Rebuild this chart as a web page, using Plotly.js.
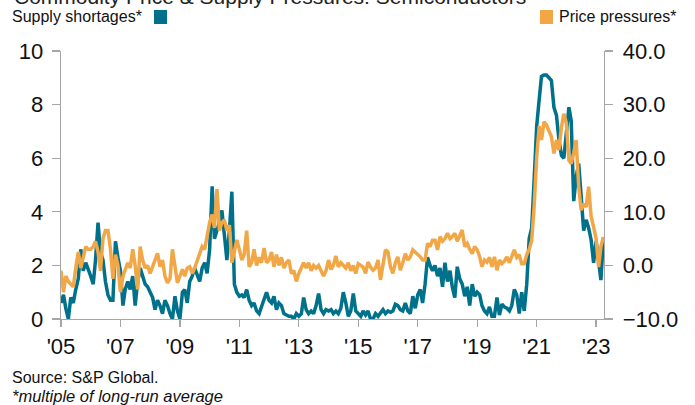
<!DOCTYPE html>
<html>
<head>
<meta charset="utf-8">
<script src="https://cdn.plot.ly/plotly-3.0.1.min.js"></script>
<style>html,body{margin:0;padding:0;background:#fff;}#chart{width:695px;height:405px;}</style>
</head>
<body>
<div id="chart"></div>
<script>
// Monthly series, Jan 2005 .. Apr 2023
var startYear = 2005;
var supplyShortages = [
  0.6, 0.9, 0.4, 0.0, 0.8, 0.6, 1.1, 1.5, 2.6, 1.8, 2.1, 1.8,   // 2005
  1.6, 1.3, 2.2, 3.6, 2.5, 2.2, 1.4, 0.9, 0.7, 0.7, 2.9, 2.3,   // 2006
  1.8, 0.5, 1.1, 1.4, 1.1, 1.6, 0.5, 1.4, 1.9, 1.6, 1.3, 1.2,   // 2007
  1.0, 0.8, 0.35, 0.7, 0.5, 0.2, 0.7, 0.5, 0.2, 0.0, 0.85, 0.3, // 2008
  0.0, 1.0, 1.1, 0.6, 1.4, 1.6, 1.9, 1.6, 1.4, 1.9, 2.1, 1.7,   // 2009
  2.6, 4.95, 3.0, 3.3, 3.6, 4.05, 3.0, 2.2, 3.3, 4.75, 1.3, 1.0, // 2010
  0.85, 0.9, 0.8, 1.1, 0.7, 0.5, 0.6, 0.3, 0.2, 0.5, 0.7, 1.0,  // 2011
  0.7, 0.6, 0.85, 0.35, 0.6, 0.5, 0.2, 0.15, 0.1, 0.1, 0.0, 0.2, // 2012
  0.1, 0.2, 0.8, 0.35, 0.2, 0.3, 0.2, 0.5, 0.95, 0.35, 0.2, 0.35, // 2013
  0.3, 0.35, 0.2, 0.3, 0.2, 0.4, 1.0, 0.6, 0.1, 0.3, 0.95, 0.3, // 2014
  0.2, 0.1, 0.3, 0.15, 0.3, 0.0, 0.0, 0.2, 0.1, 0.2, 0.35, 0.2, // 2015
  0.3, 0.25, 0.3, 0.55, 0.5, 0.35, 0.3, 0.6, 0.3, 0.2, 0.85, 0.4, // 2016
  0.9, 1.1, 0.6, 1.3, 2.3, 2.0, 1.8, 2.0, 1.6, 1.9, 1.2, 2.1,   // 2017
  1.4, 1.8, 1.2, 0.8, 1.95, 1.5, 1.3, 0.85, 1.2, 0.5, 1.3, 0.85, // 2018
  1.0, 0.9, 0.5, 0.3, 0.2, 0.45, 0.1, 0.1, 0.8, 0.15, 0.55, 0.45, // 2019
  0.4, 0.3, 0.5, 1.1, 0.9, 0.2, 1.0, 0.3, 1.3, 3.0, 3.4, 5.2,   // 2020
  7.2, 8.2, 9.05, 9.1, 9.1, 9.0, 8.9, 7.9, 7.6, 6.7, 6.1, 6.0,  // 2021
  6.9, 7.9, 7.4, 4.4, 5.3, 5.8, 4.6, 3.3, 3.7, 3.4, 2.95, 2.1,  // 2022
  2.9, 2.0, 1.45, 3.05                                          // 2023
];
var pricePressures = [
  -1.0, -5.0, -2.0, -3.0, -3.5, -4.0, -0.5, 2.5, -0.5, 1.5, 3.5, 3.0,   // 2005
  3.0, 3.5, 4.5, 2.5, -1.0, 5.0, 6.5, 6.5, 3.0, -2.5, 2.0, 0.0,        // 2006
  -5.0, -2.0, -1.0, 0.5, -0.5, 3.0, 0.0, -4.5, 3.5, 1.0, -0.5, 0.0,    // 2007
  -1.5, 0.0, 1.0, 2.25, -0.25, 1.0, -2.0, -3.25, -2.5, 3.0, 0.0, -3.25, // 2008
  -2.0, -0.75, -2.0, -0.5, -0.25, -1.5, -0.5, 1.0, 2.0, 3.5, 3.0, 5.5, // 2009
  8.0, 9.5, 7.0, 14.25, 6.5, 8.0, 8.5, 6.5, 7.5, 0.5, 3.0, 4.75,       // 2010
  3.0, 1.0, 2.0, 6.5, -0.25, 0.5, 3.0, 0.0, 1.5, 0.5, 3.25, 0.5,       // 2011
  1.0, 2.5, -0.25, 2.0, 0.0, 1.5, -0.5, 0.5, 1.0, -1.5, -1.0, -3.0,    // 2012
  -1.5, -0.5, 0.5, -0.5, 0.5, -1.0, 0.0, -0.5, 0.0, -1.0, -2.0, -1.0,  // 2013
  1.0, -0.75, 0.0, 1.75, -0.25, 0.5, 0.0, -0.5, 0.5, -1.0, 0.0, -1.5,  // 2014
  0.3, 0.0, -0.3, -1.5, 0.6, -0.3, -0.9, -0.5, 1.0, -2.7, 0.3, 2.9,    // 2015
  2.5, -0.3, -1.5, 0.5, 1.6, -0.9, 0.5, 2.2, 1.0, 1.6, 2.9, 2.5,       // 2016
  2.2, 1.6, 1.0, 1.0, 4.1, 3.5, 4.7, 4.7, 2.9, 5.35, 4.5, 5.0,         // 2017
  6.0, 5.0, 5.4, 6.0, 4.5, 5.5, 6.6, 3.5, 4.1, 3.0, 2.2, 3.5,          // 2018
  2.9, 1.6, -0.25, 1.0, 0.6, 1.5, -0.25, 1.6, -0.9, 1.0, 0.3, 0.8,     // 2019
  1.6, 0.5, 1.5, 2.9, 1.5, 2.0, 0.3, 0.3, 2.0, 3.0, 4.7, 11.0,         // 2020
  20.2, 26.0, 23.4, 26.8, 26.2, 25.0, 24.0, 20.9, 23.4, 21.5, 25.8, 28.3, // 2021
  26.5, 19.6, 19.0, 21.0, 23.4, 14.7, 10.3, 11.5, 10.9, 14.7, 9.1, 7.2,  // 2022
  5.0, -0.3, 3.5, 5.3                                                   // 2023
];
var xTickVals = ['2005-01-01','2007-01-01','2009-01-01','2011-01-01','2013-01-01','2015-01-01','2017-01-01','2019-01-01','2021-01-01','2023-01-01'];
var xTickText = ["'05","'07","'09","'11","'13","'15","'17","'19","'21","'23"];
var titleText = 'Commodity Price &amp; Supply Pressures: Semiconductors';
var legendLeft = 'Supply shortages*';
var legendRight = 'Price pressures*';
var sourceText = 'Source: S&amp;P Global.';
var noteText = '<i>*multiple of long-run average</i>';

var dates = supplyShortages.map(function (_, i) {
  var y = startYear + Math.floor(i / 12), m = (i % 12) + 1;
  return y + '-' + (m < 10 ? '0' + m : m) + '-01';
});

var teal = '#00718B', orange = '#F2A747';
var axisGrey = '#A6A6A6';
var tickFont = {family: 'Liberation Sans, Arial, sans-serif', size: 22, color: '#111'};

// pixel helpers (plot area: x 61..604, y 51..319)
var L = 61, R = 91, T = 51, B = 86, W = 695, H = 405;
var pw = W - L - R, ph = H - T - B;
function px(x) { return (x - L) / pw; }
function py(y) { return (H - B - y) / ph; }

var traces = [
  {x: dates, y: supplyShortages, type: 'scatter', mode: 'lines', yaxis: 'y',
   line: {color: teal, width: 3.5}, name: legendLeft},
  {x: dates, y: pricePressures, type: 'scatter', mode: 'lines', yaxis: 'y2',
   line: {color: orange, width: 3.5}, name: legendRight}
];

var layout = {
  width: W, height: H,
  margin: {l: L, r: R, t: T, b: B, pad: 0},
  paper_bgcolor: '#fff', plot_bgcolor: '#fff',
  showlegend: false,
  xaxis: {
    type: 'date', range: ['2005-01-01', '2023-04-08'],
    tickmode: 'array', tickvals: xTickVals, ticktext: xTickText,
    ticks: 'outside', ticklen: 7, tickwidth: 1.3, tickcolor: axisGrey,
    showline: true, linecolor: axisGrey, linewidth: 1.3,
    showgrid: false, zeroline: false, tickfont: tickFont, fixedrange: true
  },
  yaxis: {
    range: [0, 10], tickmode: 'linear', tick0: 0, dtick: 2,
    ticks: 'outside', ticklen: 8, tickwidth: 1.3, tickcolor: axisGrey,
    showline: true, linecolor: axisGrey, linewidth: 1.3,
    showgrid: false, zeroline: false, tickfont: tickFont, ticklabelstandoff: 4
  },
  yaxis2: {
    range: [-10, 40], tickmode: 'linear', tick0: -10, dtick: 10, tickformat: '.1f',
    overlaying: 'y', side: 'right',
    ticks: 'outside', ticklen: 8, tickwidth: 1.3, tickcolor: axisGrey,
    showline: true, linecolor: axisGrey, linewidth: 1.3,
    showgrid: false, zeroline: false, tickfont: tickFont, ticklabelstandoff: 5
  },
  shapes: [
    {type: 'rect', xref: 'paper', yref: 'paper', x0: px(154), x1: px(167), y0: py(24), y1: py(10),
     fillcolor: teal, line: {width: 0}},
    {type: 'rect', xref: 'paper', yref: 'paper', x0: px(540), x1: px(553), y0: py(24), y1: py(10),
     fillcolor: orange, line: {width: 0}}
  ],
  annotations: [
    {text: titleText, xref: 'paper', yref: 'paper', x: px(12), y: py(-3), xanchor: 'left', yanchor: 'middle',
     showarrow: false, font: {family: 'Liberation Sans, Arial, sans-serif', size: 21, color: '#222'}},
    {text: legendLeft, xref: 'paper', yref: 'paper', x: px(10), y: py(17), xanchor: 'left', yanchor: 'middle',
     showarrow: false, font: {family: 'Liberation Sans, Arial, sans-serif', size: 16, color: '#111'}},
    {text: legendRight, xref: 'paper', yref: 'paper', x: px(557), y: py(17), xanchor: 'left', yanchor: 'middle',
     showarrow: false, font: {family: 'Liberation Sans, Arial, sans-serif', size: 16, color: '#111'}},
    {text: sourceText, xref: 'paper', yref: 'paper', x: px(10), y: py(377), xanchor: 'left', yanchor: 'middle',
     showarrow: false, font: {family: 'Liberation Sans, Arial, sans-serif', size: 16, color: '#111'}},
    {text: noteText, xref: 'paper', yref: 'paper', x: px(10), y: py(396), xanchor: 'left', yanchor: 'middle',
     showarrow: false, font: {family: 'Liberation Sans, Arial, sans-serif', size: 16.5, color: '#111'}}
  ]
};

Plotly.newPlot('chart', traces, layout, {staticPlot: true, displayModeBar: false});
</script>
</body>
</html>
